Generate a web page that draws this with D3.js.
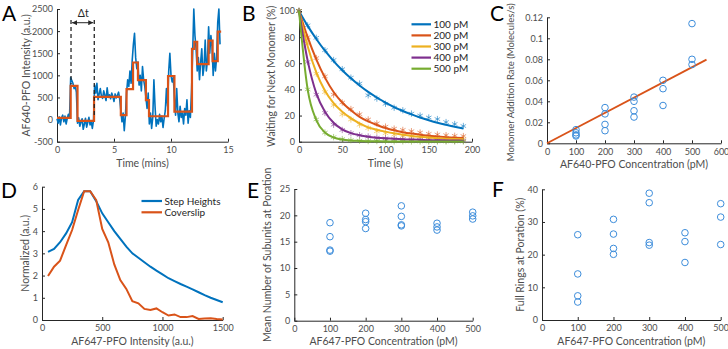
<!DOCTYPE html>
<html>
<head>
<meta charset="utf-8">
<script src="https://cdn.jsdelivr.net/npm/d3@7"></script>
<style>
body { margin: 0; background: #fff; }
svg { font-family: Lato, "Open Sans", sans-serif; }
.axis path, .axis line { stroke: #262626; }
.axis text { fill: #4d4d4d; font-size: 9px; }
.title { fill: #4d4d4d; font-size: 10.5px; text-anchor: middle; }
.legend text { fill: #262626; font-size: 10px; }
.letter { font-size: 21px; fill: #000; }
</style>
</head>
<body>
<div id="chart"></div>
<script>
// ---- data ----
// A: intensity trace sampled every 0.1 min, plus fitted steps
const traceA = [
  20, -80, 60, -120, 40, 100, -50, 80, -100, 30, 120, 60,
  950, 880, 820, 700, 760, 620,
  -80, 40, -150, -60, 20, -220, -100, 30, -170, -60, 50, -120, -40, -200, -20,
  780, 600, 820, 450, 580, 700, 520, 480, 650, 550, 430, 720, 500, 560, 470, 600, 520, 410, 580, 490, 550, 620, 460,
  200, -50, 150, -250, 80,
  600, 900, 750, 1100, 820, 1350,
  1700, 1950, 1400, 1150,
  1300, 780, 1000, 650, 1200, 900, 750,
  500, 250, 600,
  -100, 150, -200, 50, 900, 300, -150, 0, -100, 120, -50, 80, -180, 30, 200, 700, 300,
  1100, 1500, 1000, 850, 950,
  500, 100, 700, 150, -50, 300, 50, 150, -100, 250, 100, 450, -80, 200, 50, 650,
  1500, 2500,
  1900, 1600,
  1100, 1400, 900, 1300, 1600, 1000, 1200, 1800, 1100, 1350,
  2100, 1500, 1900, 1650,
  1000, 1500, 1100, 1400,
  2200, 2500, 1700
];
const stepTimesA = [0, 1.2, 1.8, 3.25, 5.6, 6.1, 6.67, 7.1, 7.8, 8.07, 9.74, 10.3, 11.84, 12.05, 12.3, 13.3, 13.65, 14.1, 14.4];
const stepLevelsA = [40, 760, -30, 515, 100, 690, 1290, 890, 440, 75, 985, 180, 1600, 1760, 1255, 1785, 1320, 1990, 1990];
const dtMarksA = [1.23, 3.27];
const dtBottomsA = [800, 50];

// B: waiting curves
const timesB = [0, 10, 20, 30, 40, 50, 60, 70, 80, 90, 100, 110, 120, 130, 140, 150, 160, 170, 180, 190];
const namesB = ['100 pM', '200 pM', '300 pM', '400 pM', '500 pM'];
const pts100 = [100, 89, 79.5, 70, 62.5, 55.5, 49, 44.5, 35.5, 33, 29, 26, 24, 21.5, 20, 18.5, 17.3, 15, 13.5, 12];
const pts200 = [100, 80, 64, 50, 36, 30, 25, 21, 17, 14, 11.5, 10, 9, 8, 7, 6, 5.5, 5, 4.5, 4.3];
const pts300 = [100, 75, 52, 38, 28, 21, 17, 13, 10.5, 8, 6.5, 5.5, 4.5, 4, 3.5, 3, 2.5, 2.2, 2, 1.8];
const pts400 = [100, 61, 36, 22, 13, 9, 6.5, 5, 4, 3, 2.5, 2, 1.8, 1.5, 1.3, 1.2, 1, 1, 0.8, 0.8];
const pts500 = [100, 40, 17, 7, 3.5, 2, 1.2, 0.8, 0.5, 0.5, 0.4, 0.3, 0.3, 0.2, 0.2, 0.2, 0.2, 0.2, 0.2, 0.2];
const fit100 = [100, 88.6, 78.6, 69.6, 61.7, 54.7, 48.5, 43.0, 38.1, 33.8, 29.9, 26.5, 23.5, 20.9, 18.5, 16.4, 14.5, 12.9, 11.4, 10.1];
const fit200 = [100, 80, 63, 49, 38, 30, 24, 19, 15.5, 12.8, 10.5, 8.7, 7.3, 6.2, 5.3, 4.6, 4.0, 3.5, 3.1, 2.8];
const fit300 = [100, 73, 53, 39, 29.5, 23, 18, 14, 11, 9.2, 7.7, 6.4, 5.3, 4.4, 3.7, 3.2, 2.7, 2.3, 2.0, 1.8];
const fit400 = [100, 62, 37, 23, 14.5, 9.5, 6.6, 4.9, 3.8, 3.1, 2.6, 2.2, 1.9, 1.6, 1.4, 1.2, 1.1, 1.0, 0.9, 0.8];
const fit500 = [100, 40, 16.5, 7, 3.2, 1.6, 0.9, 0.6, 0.4, 0.3, 0.2, 0.2, 0.1, 0.1, 0.1, 0.1, 0.1, 0.1, 0.1, 0.1];

// C: addition rate vs concentration
const concC = [100, 100, 100, 100, 200, 200, 200, 200, 300, 300, 300, 300, 400, 400, 400, 500, 500, 500];
const rateC = [0.013, 0.010, 0.008, 0.007, 0.034, 0.028, 0.018, 0.012, 0.044, 0.040, 0.031, 0.025, 0.060, 0.052, 0.036, 0.114, 0.080, 0.075];
const fitC = [[0, 0], [550, 0.0797]];

// D: histograms
const binsD = [50, 100, 150, 200, 250, 300, 350, 400, 450, 500, 550, 600, 650, 700, 750, 800, 850, 900, 950, 1000, 1050, 1100, 1150, 1200, 1250, 1300, 1350, 1400, 1450, 1500];
const stepHeights = [3.07, 3.2, 3.5, 3.9, 4.4, 5.4, 5.8, 5.8, 5.35, 4.8, 4.4, 4.0, 3.65, 3.3, 3.0, 2.8, 2.6, 2.4, 2.22, 2.05, 1.88, 1.75, 1.62, 1.5, 1.38, 1.25, 1.12, 1.0, 0.9, 0.8];
const coverslip = [1.98, 2.4, 2.67, 3.37, 4.05, 4.95, 5.8, 5.8, 5.4, 4.1, 3.5, 2.5, 1.8, 1.4, 0.85, 0.75, 0.5, 0.45, 0.52, 0.35, 0.2, 0.25, 0.13, 0.13, 0.18, 0.05, 0.07, 0.08, 0.04, 0.02];
const namesD = ['Step Heights', 'Coverslip'];

// E: subunits, F: full rings
const concE = [100, 100, 100, 100, 200, 200, 200, 200, 300, 300, 300, 300, 400, 400, 400, 500, 500, 500];
const subunitsE = [18.6, 15.95, 13.4, 13.2, 20.4, 19.2, 18.8, 17.5, 21.8, 19.8, 18.2, 18.0, 18.5, 17.8, 17.2, 20.6, 19.9, 19.3];
const concF = [100, 100, 100, 100, 200, 200, 200, 200, 300, 300, 300, 300, 400, 400, 400, 500, 500, 500];
const ringsF = [26.1, 14.1, 7.4, 5.5, 30.8, 26.3, 21.9, 20.1, 38.8, 35.9, 23.7, 22.9, 26.7, 24.0, 17.6, 35.6, 31.5, 23.1];

// tick labels
const ticksAx = [0, 5, 10, 15], ticksAy = [-500, 0, 500, 1000, 1500, 2000, 2500];
const ticksBx = [0, 50, 100, 150, 200], ticksBy = [0, 20, 40, 60, 80, 100];
const ticksCx = [0, 100, 200, 300, 400, 500, 600], ticksCy = [0, 0.02, 0.04, 0.06, 0.08, 0.1, 0.12];
const ticksDx = [0, 500, 1000, 1500], ticksDy = [0, 1, 2, 3, 4, 5, 6];
const ticksEx = [0, 100, 200, 300, 400, 500], ticksEy = [0, 5, 10, 15, 20, 25];
const ticksFx = [0, 100, 200, 300, 400, 500], ticksFy = [0, 10, 20, 30, 40];

// ---- drawing ----
const colors = ['#0072BD', '#D95319', '#EDB120', '#7E2F8E', '#77AC30'];
const circleColor = '#3d8ddb';

const svg = d3.select('#chart').append('svg')
    .attr('width', 728)
    .attr('height', 349);

function panel(cfg) {
  const x = d3.scaleLinear().domain(cfg.xd).range(cfg.xr);
  const y = d3.scaleLinear().domain(cfg.yd).range(cfg.yr);
  const fmt = d => String(+d.toFixed(2));

  svg.append('g')
    .attr('class', 'axis')
    .attr('transform', `translate(0, ${cfg.yr[0]})`)
    .call(d3.axisBottom(x).tickValues(cfg.xt).tickSizeInner(-3).tickSizeOuter(0).tickPadding(5).tickFormat(fmt));

  svg.append('g')
    .attr('class', 'axis')
    .attr('transform', `translate(${cfg.xr[0]}, 0)`)
    .call(d3.axisLeft(y).tickValues(cfg.yt).tickSizeInner(-3).tickSizeOuter(0).tickPadding(4).tickFormat(fmt));

  svg.selectAll('.axis').attr('font-size', null).attr('font-family', null);

  svg.append('text').attr('class', 'title')
    .attr('x', (cfg.xr[0] + cfg.xr[1]) / 2)
    .attr('y', cfg.xtY)
    .text(cfg.xLabel);

  svg.append('text').attr('class', 'title')
    .attr('transform', `translate(${cfg.ytX}, ${(cfg.yr[0] + cfg.yr[1]) / 2 + (cfg.ytDy || 0)}) rotate(-90)`)
    .style('font-size', cfg.ytSize ? cfg.ytSize + 'px' : null)
    .text(cfg.yLabel);

  svg.append('text').attr('class', 'letter')
    .attr('x', cfg.letterPos[0]).attr('y', cfg.letterPos[1])
    .text(cfg.letter);

  return {x, y};
}

// A
const A = panel({xd: [0, 15], yd: [-500, 2500], xr: [57, 228], yr: [141.7, 9], xt: ticksAx, yt: ticksAy,
  xLabel: 'Time (mins)', yLabel: 'AF640-PFO Intensity (a.u.)', xtY: 167, ytX: 30, letter: 'A', letterPos: [2, 21]});

svg.append('path')
    .datum(traceA)
    .attr('fill', 'none')
    .attr('stroke', colors[0])
    .attr('stroke-width', 1.6)
    .attr('stroke-linejoin', 'round')
    .attr('d', d3.line().x((d, i) => A.x(i * 0.1)).y(d => A.y(d)));

svg.append('path')
    .datum(stepTimesA.map((t, i) => [t, stepLevelsA[i]]))
    .attr('fill', 'none')
    .attr('stroke', colors[1])
    .attr('stroke-width', 2.2)
    .attr('d', d3.line().curve(d3.curveStepAfter).x(d => A.x(d[0])).y(d => A.y(d[1])));

dtMarksA.forEach((t, i) => {
  svg.append('line')
    .attr('x1', A.x(t)).attr('x2', A.x(t))
    .attr('y1', A.y(2250)).attr('y2', A.y(dtBottomsA[i]))
    .attr('stroke', '#262626')
    .attr('stroke-width', 1.3)
    .attr('stroke-dasharray', '4,3');
});

svg.append('defs').append('marker')
    .attr('id', 'arr')
    .attr('viewBox', '0 0 10 10')
    .attr('refX', 10).attr('refY', 5)
    .attr('markerWidth', 5).attr('markerHeight', 5)
    .attr('orient', 'auto-start-reverse')
    .append('path')
    .attr('d', 'M0,0L10,5L0,10z')
    .attr('fill', '#262626');

svg.append('line')
    .attr('x1', A.x(dtMarksA[0]) + 1).attr('x2', A.x(dtMarksA[1]) - 1)
    .attr('y1', A.y(2190)).attr('y2', A.y(2190))
    .attr('stroke', '#262626')
    .attr('stroke-width', 1)
    .attr('marker-start', 'url(#arr)')
    .attr('marker-end', 'url(#arr)');

svg.append('text')
    .attr('x', A.x(2.3)).attr('y', A.y(2330))
    .attr('text-anchor', 'middle')
    .attr('font-size', 10.5)
    .attr('fill', '#262626')
    .text('Δt');

// B
const B = panel({xd: [0, 200], yd: [0, 100], xr: [299, 472], yr: [141.7, 11], xt: ticksBx, yt: ticksBy,
  xLabel: 'Time (s)', yLabel: 'Waiting for Next Monomer (%)', xtY: 167, ytX: 275, letter: 'B', letterPos: [242, 21]});

const ptsB = [pts100, pts200, pts300, pts400, pts500];
const fitB = [fit100, fit200, fit300, fit400, fit500];
const star = d3.symbol().type(d3.symbolAsterisk || d3.symbolCross).size(28);

ptsB.forEach((s, k) => {
  svg.append('g')
    .selectAll('path')
    .data(s)
    .enter()
    .append('path')
    .attr('transform', (d, i) => `translate(${B.x(timesB[i])}, ${B.y(d)})`)
    .attr('d', star)
    .attr('fill', 'none')
    .attr('stroke', colors[k])
    .attr('stroke-opacity', 0.55)
    .attr('stroke-width', 1);
});

fitB.forEach((s, k) => {
  svg.append('path')
    .datum(s)
    .attr('fill', 'none')
    .attr('stroke', colors[k])
    .attr('stroke-width', 2)
    .attr('d', d3.line().curve(d3.curveMonotoneX).x((d, i) => B.x(timesB[i])).y(d => B.y(d)));
});

const legB = svg.append('g').attr('class', 'legend');
namesB.forEach((n, k) => {
  const yy = 24.3 + k * 11.1;
  legB.append('line').attr('x1', 411.5).attr('x2', 431).attr('y1', yy).attr('y2', yy)
    .attr('stroke', colors[k]).attr('stroke-width', 2.2);
  legB.append('text').attr('x', 433.5).attr('y', yy + 3.5).text(n);
});

// C
const C = panel({xd: [0, 600], yd: [0, 0.12], xr: [547, 721], yr: [143.3, 17.3], xt: ticksCx, yt: ticksCy,
  xLabel: 'AF640-PFO Concentration (pM)', yLabel: 'Monomer Addition Rate (Molecules/s)', xtY: 168, ytX: 514,
  ytSize: 9.5, ytDy: 2, letter: 'C', letterPos: [490, 21]});

svg.append('line')
    .attr('x1', C.x(fitC[0][0])).attr('y1', C.y(fitC[0][1]))
    .attr('x2', C.x(fitC[1][0])).attr('y2', C.y(fitC[1][1]))
    .attr('stroke', colors[1])
    .attr('stroke-width', 1.8);

svg.append('g')
    .selectAll('circle')
    .data(rateC)
    .enter()
    .append('circle')
    .attr('cx', (d, i) => C.x(concC[i]))
    .attr('cy', d => C.y(d))
    .attr('r', 3.3)
    .attr('fill', 'none')
    .attr('stroke', circleColor);

// D
const D = panel({xd: [0, 1500], yd: [0, 6], xr: [42, 222.7], yr: [320, 186.7], xt: ticksDx, yt: ticksDy,
  xLabel: 'AF647-PFO Intensity (a.u.)', yLabel: 'Normalized (a.u.)', xtY: 345, ytX: 28.5, letter: 'D', letterPos: [1, 198]});

[stepHeights, coverslip].forEach((s, k) => {
  svg.append('path')
    .datum(s)
    .attr('fill', 'none')
    .attr('stroke', colors[k])
    .attr('stroke-width', 2)
    .attr('d', d3.line().x((d, i) => D.x(binsD[i])).y(d => D.y(d)));
});

const legD = svg.append('g').attr('class', 'legend');
namesD.forEach((n, k) => {
  const yy = 201 + k * 11.3;
  legD.append('line').attr('x1', 141.5).attr('x2', 162).attr('y1', yy).attr('y2', yy)
    .attr('stroke', colors[k]).attr('stroke-width', 2.2);
  legD.append('text').attr('x', 164.5).attr('y', yy + 3.5).text(n);
});

// E
const E = panel({xd: [0, 500], yd: [0, 25], xr: [294.3, 472.7], yr: [320.7, 189], xt: ticksEx, yt: ticksEy,
  xLabel: 'AF647-PFO Concentration (pM)', yLabel: 'Mean Number of Subunits at Poration', xtY: 345, ytX: 270.5, letter: 'E', letterPos: [247, 198]});

svg.append('g')
    .selectAll('circle')
    .data(subunitsE)
    .enter()
    .append('circle')
    .attr('cx', (d, i) => E.x(concE[i]))
    .attr('cy', d => E.y(d))
    .attr('r', 3.3)
    .attr('fill', 'none')
    .attr('stroke', circleColor);

// F
const F = panel({xd: [0, 500], yd: [0, 40], xr: [542, 720.7], yr: [320, 189.3], xt: ticksFx, yt: ticksFy,
  xLabel: 'AF647-PFO Concentration (pM)', yLabel: 'Full Rings at Poration (%)', xtY: 345, ytX: 524, letter: 'F', letterPos: [492, 197]});

svg.append('g')
    .selectAll('circle')
    .data(ringsF)
    .enter()
    .append('circle')
    .attr('cx', (d, i) => F.x(concF[i]))
    .attr('cy', d => F.y(d))
    .attr('r', 3.3)
    .attr('fill', 'none')
    .attr('stroke', circleColor);
</script>
</body>
</html>
